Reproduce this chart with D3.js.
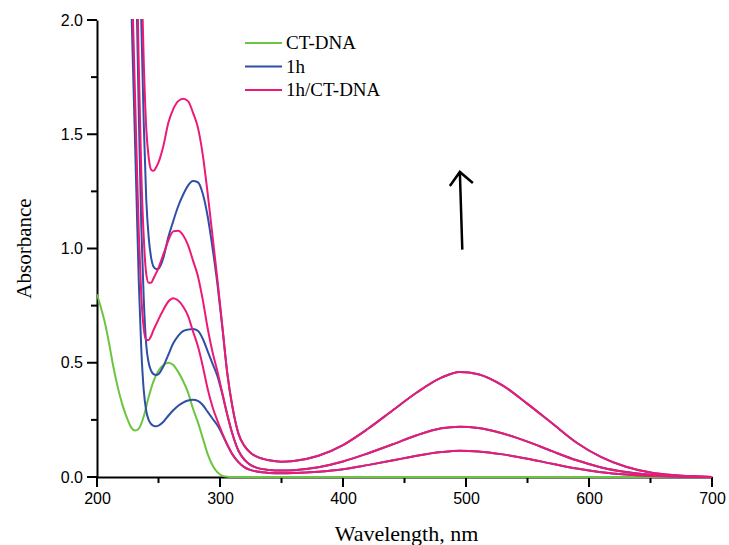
<!DOCTYPE html>
<html lang="en">
<head>
  <meta charset="UTF-8">
  <script type="text/javascript" src="https://cdn.jsdelivr.net/npm/d3@7/dist/d3.min.js"></script>
  <title>Absorbance</title>
  <style type="text/css">
    * {
      margin: 0;
      padding: 0;
    }

    html, body {
      width: 100%;
      height: 100%;
      background-color: #fff;
    }

    #box {
      width: 729px;
      height: 545px;
    }
  </style>
</head>

<body>
<div id="box"></div>
</body>
<script type="text/javascript">
  // CT-DNA spectrum
  var dnaWavelengths = [200, 203, 206, 210, 213, 217, 221, 225, 228, 231, 234, 238, 242, 246, 250, 254, 258, 262, 266,
    270, 274, 278, 282, 286, 290, 294, 298, 302, 306, 310, 350, 400, 500, 600, 700]
  var ctDna = [0.80, 0.745, 0.685, 0.58, 0.49, 0.39, 0.31, 0.25, 0.215, 0.203, 0.212, 0.265, 0.35, 0.42, 0.465, 0.49,
    0.50, 0.49, 0.46, 0.42, 0.37, 0.30, 0.24, 0.17, 0.10, 0.05, 0.02, 0.005, 0.001, 0, 0, 0, 0, 0, 0]

  // 1h and 1h/CT-DNA spectra (three concentrations)
  var wavelengths = [226, 228, 230, 232, 234, 236, 238, 240, 242, 244, 246, 248, 250, 254, 258, 262, 266, 270, 274, 278,
    282, 286, 290, 294, 298, 302, 306, 310, 315, 320, 325, 330, 340, 350, 360, 380, 400, 420, 440, 460, 480, 495, 510,
    530, 550, 570, 590, 610, 630, 650, 670, 700]

  var h1Low = [2.6, 2.05, 1.65, 1.25, 0.85, 0.56, 0.38, 0.29, 0.25, 0.232, 0.224, 0.222, 0.225, 0.242, 0.268, 0.292,
    0.312, 0.326, 0.335, 0.338, 0.333, 0.315, 0.285, 0.255, 0.225, 0.185, 0.14, 0.1, 0.065, 0.042, 0.03, 0.024, 0.018,
    0.016, 0.017, 0.023, 0.034, 0.052, 0.072, 0.093, 0.109, 0.115, 0.112, 0.099, 0.08, 0.058, 0.037, 0.021, 0.011,
    0.005, 0.002, 0]
  var h1Mid = [4.0, 3.4, 2.8, 2.15, 1.58, 1.1, 0.78, 0.58, 0.5, 0.465, 0.45, 0.446, 0.45, 0.485, 0.535, 0.585, 0.618,
    0.638, 0.645, 0.648, 0.64, 0.605, 0.55, 0.495, 0.44, 0.36, 0.27, 0.19, 0.115, 0.075, 0.052, 0.04, 0.031, 0.028,
    0.03, 0.043, 0.068, 0.103, 0.142, 0.183, 0.213, 0.22, 0.214, 0.19, 0.155, 0.113, 0.073, 0.042, 0.022, 0.01, 0.004, 0]
  var h1High = [5.0, 4.5, 3.8, 3.1, 2.5, 2.0, 1.55, 1.22, 1.05, 0.96, 0.92, 0.91, 0.912, 0.96, 1.05, 1.12, 1.185, 1.235,
    1.275, 1.295, 1.29, 1.24, 1.14, 1.0, 0.84, 0.65, 0.45, 0.31, 0.19, 0.135, 0.105, 0.089, 0.073, 0.067, 0.07, 0.093,
    0.14, 0.21, 0.29, 0.37, 0.435, 0.46, 0.45, 0.4, 0.32, 0.235, 0.15, 0.087, 0.045, 0.02, 0.008, 0]

  var mixLow = [2.835, 2.265, 1.855, 1.455, 1.065, 0.795, 0.65, 0.6, 0.6, 0.617, 0.644, 0.667, 0.69, 0.732, 0.768,
    0.782, 0.772, 0.746, 0.705, 0.638, 0.573, 0.485, 0.385, 0.305, 0.245, 0.19, 0.141, 0.1, 0.065, 0.042, 0.03, 0.024,
    0.018, 0.016, 0.017, 0.023, 0.034, 0.052, 0.072, 0.093, 0.109, 0.115, 0.112, 0.099, 0.08, 0.058, 0.037, 0.021,
    0.011, 0.005, 0.002, 0]
  var mixMid = [4.235, 3.615, 3.005, 2.355, 1.795, 1.335, 1.05, 0.89, 0.85, 0.85, 0.87, 0.891, 0.915, 0.975, 1.035,
    1.075, 1.078, 1.058, 1.015, 0.948, 0.88, 0.775, 0.65, 0.545, 0.46, 0.365, 0.271, 0.19, 0.115, 0.075, 0.052, 0.04,
    0.031, 0.028, 0.03, 0.043, 0.068, 0.103, 0.142, 0.183, 0.213, 0.22, 0.214, 0.19, 0.155, 0.113, 0.073, 0.042, 0.022,
    0.01, 0.004, 0]
  var mixHigh = [5.235, 4.715, 4.005, 3.305, 2.715, 2.235, 1.82, 1.53, 1.40, 1.345, 1.34, 1.355, 1.377, 1.45, 1.55,
    1.61, 1.645, 1.655, 1.645, 1.595, 1.53, 1.41, 1.24, 1.05, 0.86, 0.655, 0.451, 0.31, 0.19, 0.135, 0.105, 0.089,
    0.073, 0.067, 0.07, 0.093, 0.14, 0.21, 0.29, 0.37, 0.435, 0.46, 0.45, 0.4, 0.32, 0.235, 0.15, 0.087, 0.045, 0.02,
    0.008, 0]

  // ticks: labelled ones and all (with minor ones in between)
  var xTicks = [200, 300, 400, 500, 600, 700]
  var xTicksAll = [200, 250, 300, 350, 400, 450, 500, 550, 600, 650, 700]
  var yTicks = [0, 0.5, 1.0, 1.5, 2.0]
  var yTicksAll = [0, 0.25, 0.5, 0.75, 1.0, 1.25, 1.5, 1.75, 2.0]
  var legendNames = ['CT-DNA', '1h', '1h/CT-DNA']

  var green = '#6cc540'
  var blue = '#2f4fa6'
  var pink = '#ec1a76'
  var legendColors = [green, blue, pink]

  // canvas
  var width = 729
  var height = 545
  var svg = d3.select('#box')
    .append('svg')
    .attr('width', width)
    .attr('height', height)

  var plotLeft = 97, plotRight = 712, plotTop = 20, plotBottom = 477

  var x = d3.scaleLinear().domain([200, 700]).range([plotLeft, plotRight])
  var y = d3.scaleLinear().domain([0, 2]).range([plotBottom, plotTop])

  svg.append('clipPath').attr('id', 'plot')
    .append('rect')
    .attr('x', plotLeft).attr('y', plotTop - 1)
    .attr('width', plotRight - plotLeft + 2).attr('height', plotBottom - plotTop + 2)

  // axes (labels from the axis, tick marks as lines from the scales)
  svg.append('g')
    .attr('class', 'axis')
    .attr('transform', 'translate(0,' + plotBottom + ')')
    .call(d3.axisBottom(x).tickValues(xTicks).tickSize(0).tickSizeOuter(0).tickPadding(16)
      .tickFormat(d3.format('d')))

  svg.append('g')
    .attr('class', 'axis')
    .attr('transform', 'translate(' + plotLeft + ',0)')
    .call(d3.axisLeft(y).tickValues(yTicks).tickSize(0).tickSizeOuter(0).tickPadding(14)
      .tickFormat(d3.format('.1f')))

  svg.selectAll('.xmark')
    .data(xTicksAll)
    .enter()
    .append('line')
    .attr('class', 'xmark')
    .attr('x1', function (d) { return x(d) })
    .attr('x2', function (d) { return x(d) })
    .attr('y1', plotBottom)
    .attr('y2', function (d) { return plotBottom + (xTicks.indexOf(d) >= 0 ? 10 : 6) })
    .attr('stroke', '#000')
    .attr('stroke-width', 2)

  svg.selectAll('.ymark')
    .data(yTicksAll)
    .enter()
    .append('line')
    .attr('class', 'ymark')
    .attr('y1', function (d) { return y(d) })
    .attr('y2', function (d) { return y(d) })
    .attr('x1', plotLeft)
    .attr('x2', function (d) { return plotLeft - (yTicks.indexOf(d) >= 0 ? 10 : 6) })
    .attr('stroke', '#000')
    .attr('stroke-width', 2)

  svg.selectAll('.domain').attr('stroke', '#000').attr('stroke-width', 2)
  svg.selectAll('.tick text')
    .attr('fill', '#000')
    .style('font-family', 'Liberation Sans, Arial, sans-serif')
    .style('font-size', '16px')

  // axis titles
  svg.append('text')
    .attr('x', (plotLeft + plotRight) / 2 + 2)
    .attr('y', 541)
    .attr('text-anchor', 'middle')
    .style('font-family', 'Liberation Serif, Times New Roman, serif')
    .style('font-size', '22px')
    .text('Wavelength, nm')

  svg.append('text')
    .attr('transform', 'translate(31,' + ((plotTop + plotBottom) / 2) + ') rotate(-90)')
    .attr('text-anchor', 'middle')
    .style('font-family', 'Liberation Serif, Times New Roman, serif')
    .style('font-size', '21px')
    .text('Absorbance')

  // spectra
  var line = d3.line()
    .x(function (d) { return x(d[0]) })
    .y(function (d) { return y(d[1]) })
    .curve(d3.curveMonotoneX)

  var curves = svg.append('g').attr('clip-path', 'url(#plot)')

  function draw(ws, vals, color) {
    curves.append('path')
      .datum(d3.zip(ws, vals))
      .attr('d', line)
      .attr('fill', 'none')
      .attr('stroke', color)
      .attr('stroke-width', 2)
  }

  draw(dnaWavelengths, ctDna, green)
  draw(wavelengths, h1Low, blue)
  draw(wavelengths, h1Mid, blue)
  draw(wavelengths, h1High, blue)
  draw(wavelengths, mixLow, pink)
  draw(wavelengths, mixMid, pink)
  draw(wavelengths, mixHigh, pink)

  // legend
  var legend = svg.append('g')
  legendNames.forEach(function (name, i) {
    var ly = 43 + i * 23.5
    legend.append('line')
      .attr('x1', 245).attr('x2', 282)
      .attr('y1', ly).attr('y2', ly)
      .attr('stroke', legendColors[i])
      .attr('stroke-width', 2)
    legend.append('text')
      .attr('x', 286)
      .attr('y', ly + 6)
      .style('font-family', 'Liberation Serif, Times New Roman, serif')
      .style('font-size', '19px')
      .text(name)
  })

  // arrow
  var ax0 = x(497), ay0 = y(0.995), ax1 = x(495), ay1 = y(1.335)
  svg.append('path')
    .attr('d', 'M' + ax0 + ',' + ay0 + 'L' + ax1 + ',' + ay1 +
      'M' + (ax1 - 10) + ',' + (ay1 + 14) + 'L' + ax1 + ',' + ay1 + 'L' + (ax1 + 13) + ',' + (ay1 + 11))
    .attr('fill', 'none')
    .attr('stroke', '#000')
    .attr('stroke-width', 2.5)
</script>
</html>
